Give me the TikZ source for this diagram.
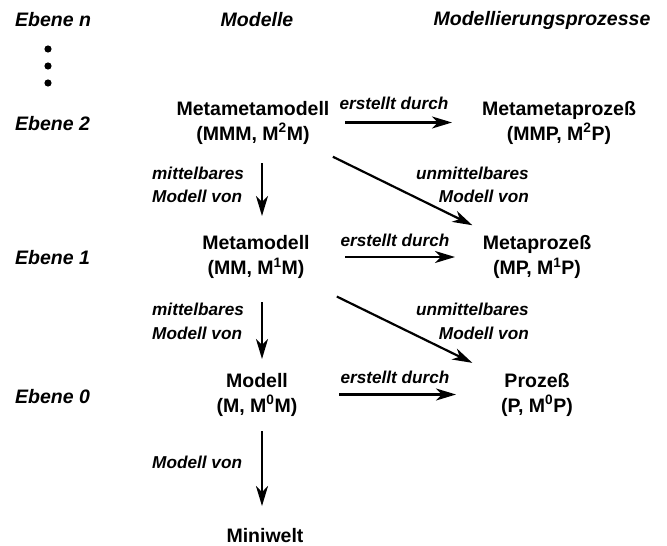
\documentclass[tikz,border=0pt]{standalone}
\usepackage{fontspec}
\setmainfont{Liberation Sans}
\usepackage{tikz}
\usetikzlibrary{arrows.meta}

\begin{document}
\begin{tikzpicture}[x=1pt,y=-1pt]
	\tikzstyle{kopf}=[font=\fontsize{19.5}{23}\selectfont\bfseries\itshape,inner sep=0pt]
	\tikzstyle{stufe}=[font=\fontsize{19.5}{25}\selectfont\bfseries,align=center,inner sep=0pt]
	\tikzstyle{marke}=[font=\fontsize{17.2}{23.5}\selectfont\bfseries\itshape,inner sep=0pt]
	\tikzstyle{pfeil}=[line width=2.2pt,-{Stealth[length=20pt,width=12pt,inset=6pt]}]
	\useasboundingbox (0,0) rectangle (667,546);
	% Kopfzeile
	\node[kopf,anchor=west](en) at (15,20) {Ebene n};
	\node[kopf](hm) at (257,20) {Modelle};
	\node[kopf](hp) at (542,20) {Modellierungsprozesse};
	\fill (48,49) circle (3.6) (48,66) circle (3.6) (48,83) circle (3.6);
	% Ebenen
	\node[kopf,anchor=west](e2) at (15,124) {Ebene 2};
	\node[kopf,anchor=west](e1) at (15,258) {Ebene 1};
	\node[kopf,anchor=west](e0) at (15,397) {Ebene 0};
	% Modelle und Prozesse
	\node[stufe](mmm) at (253,122.5) {Metametamodell\\(MMM, M\textsuperscript{2}M)};
	\node[stufe](mmp) at (559,122.5) {Metametaproze\ss\\(MMP, M\textsuperscript{2}P)};
	\node[stufe](mm) at (256,257) {Metamodell\\(MM, M\textsuperscript{1}M)};
	\node[stufe](mp) at (537,257) {Metaproze\ss\\(MP, M\textsuperscript{1}P)};
	\node[stufe](m) at (257,394.5) {Modell\\(M, M\textsuperscript{0}M)};
	\node[stufe](p) at (537,394.5) {Proze\ss\\(P, M\textsuperscript{0}P)};
	\node[stufe,anchor=base](mw) at (265,542) {Miniwelt};
	\coordinate (achse) at (262,0);
	% erstellt durch
	\draw[pfeil,shorten <=92pt,shorten >=107pt](mmm.center) -- (mmp.center);
	\draw[pfeil,shorten <=89pt,shorten >=82pt](mm.center) -- (mp.center);
	\draw[pfeil,shorten <=82pt,shorten >=81pt](m.center) -- (p.center);
	\node[marke](ed1) at (394,103) {erstellt durch};
	\node[marke](ed2) at (395,240) {erstellt durch};
	\node[marke](ed3) at (395,377) {erstellt durch};
	% mittelbar
	\draw[pfeil,shorten <=40.5pt,shorten >=41pt](mmm.center -| achse) -- (mm.center -| achse);
	\draw[pfeil,shorten <=45pt,shorten >=35.5pt](mm.center -| achse) -- (m.center -| achse);
	\draw[pfeil,shorten <=36.5pt,shorten >=29pt](m.center -| achse) -- (mw.center -| achse);
	\node[marke,anchor=west,align=left](mv1) at (152,185) {mittelbares\\Modell von};
	\node[marke,anchor=west,align=left](mv2) at (152,321.5) {mittelbares\\Modell von};
	\node[marke,anchor=west](mv3) at (152,462) {Modell von};
	% unmittelbar
	\draw[pfeil,shorten <=89pt,shorten >=72pt]([yshift=5pt]mmm.center) -- (mp.center);
	\draw[pfeil,shorten <=90pt,shorten >=72pt](mm.center) -- (p.center);
	\node[marke,anchor=east,align=right](um1) at (529,185) {unmittelbares\\Modell von};
	\node[marke,anchor=east,align=right](um2) at (529,321.5) {unmittelbares\\Modell von};
\end{tikzpicture}
\end{document}
